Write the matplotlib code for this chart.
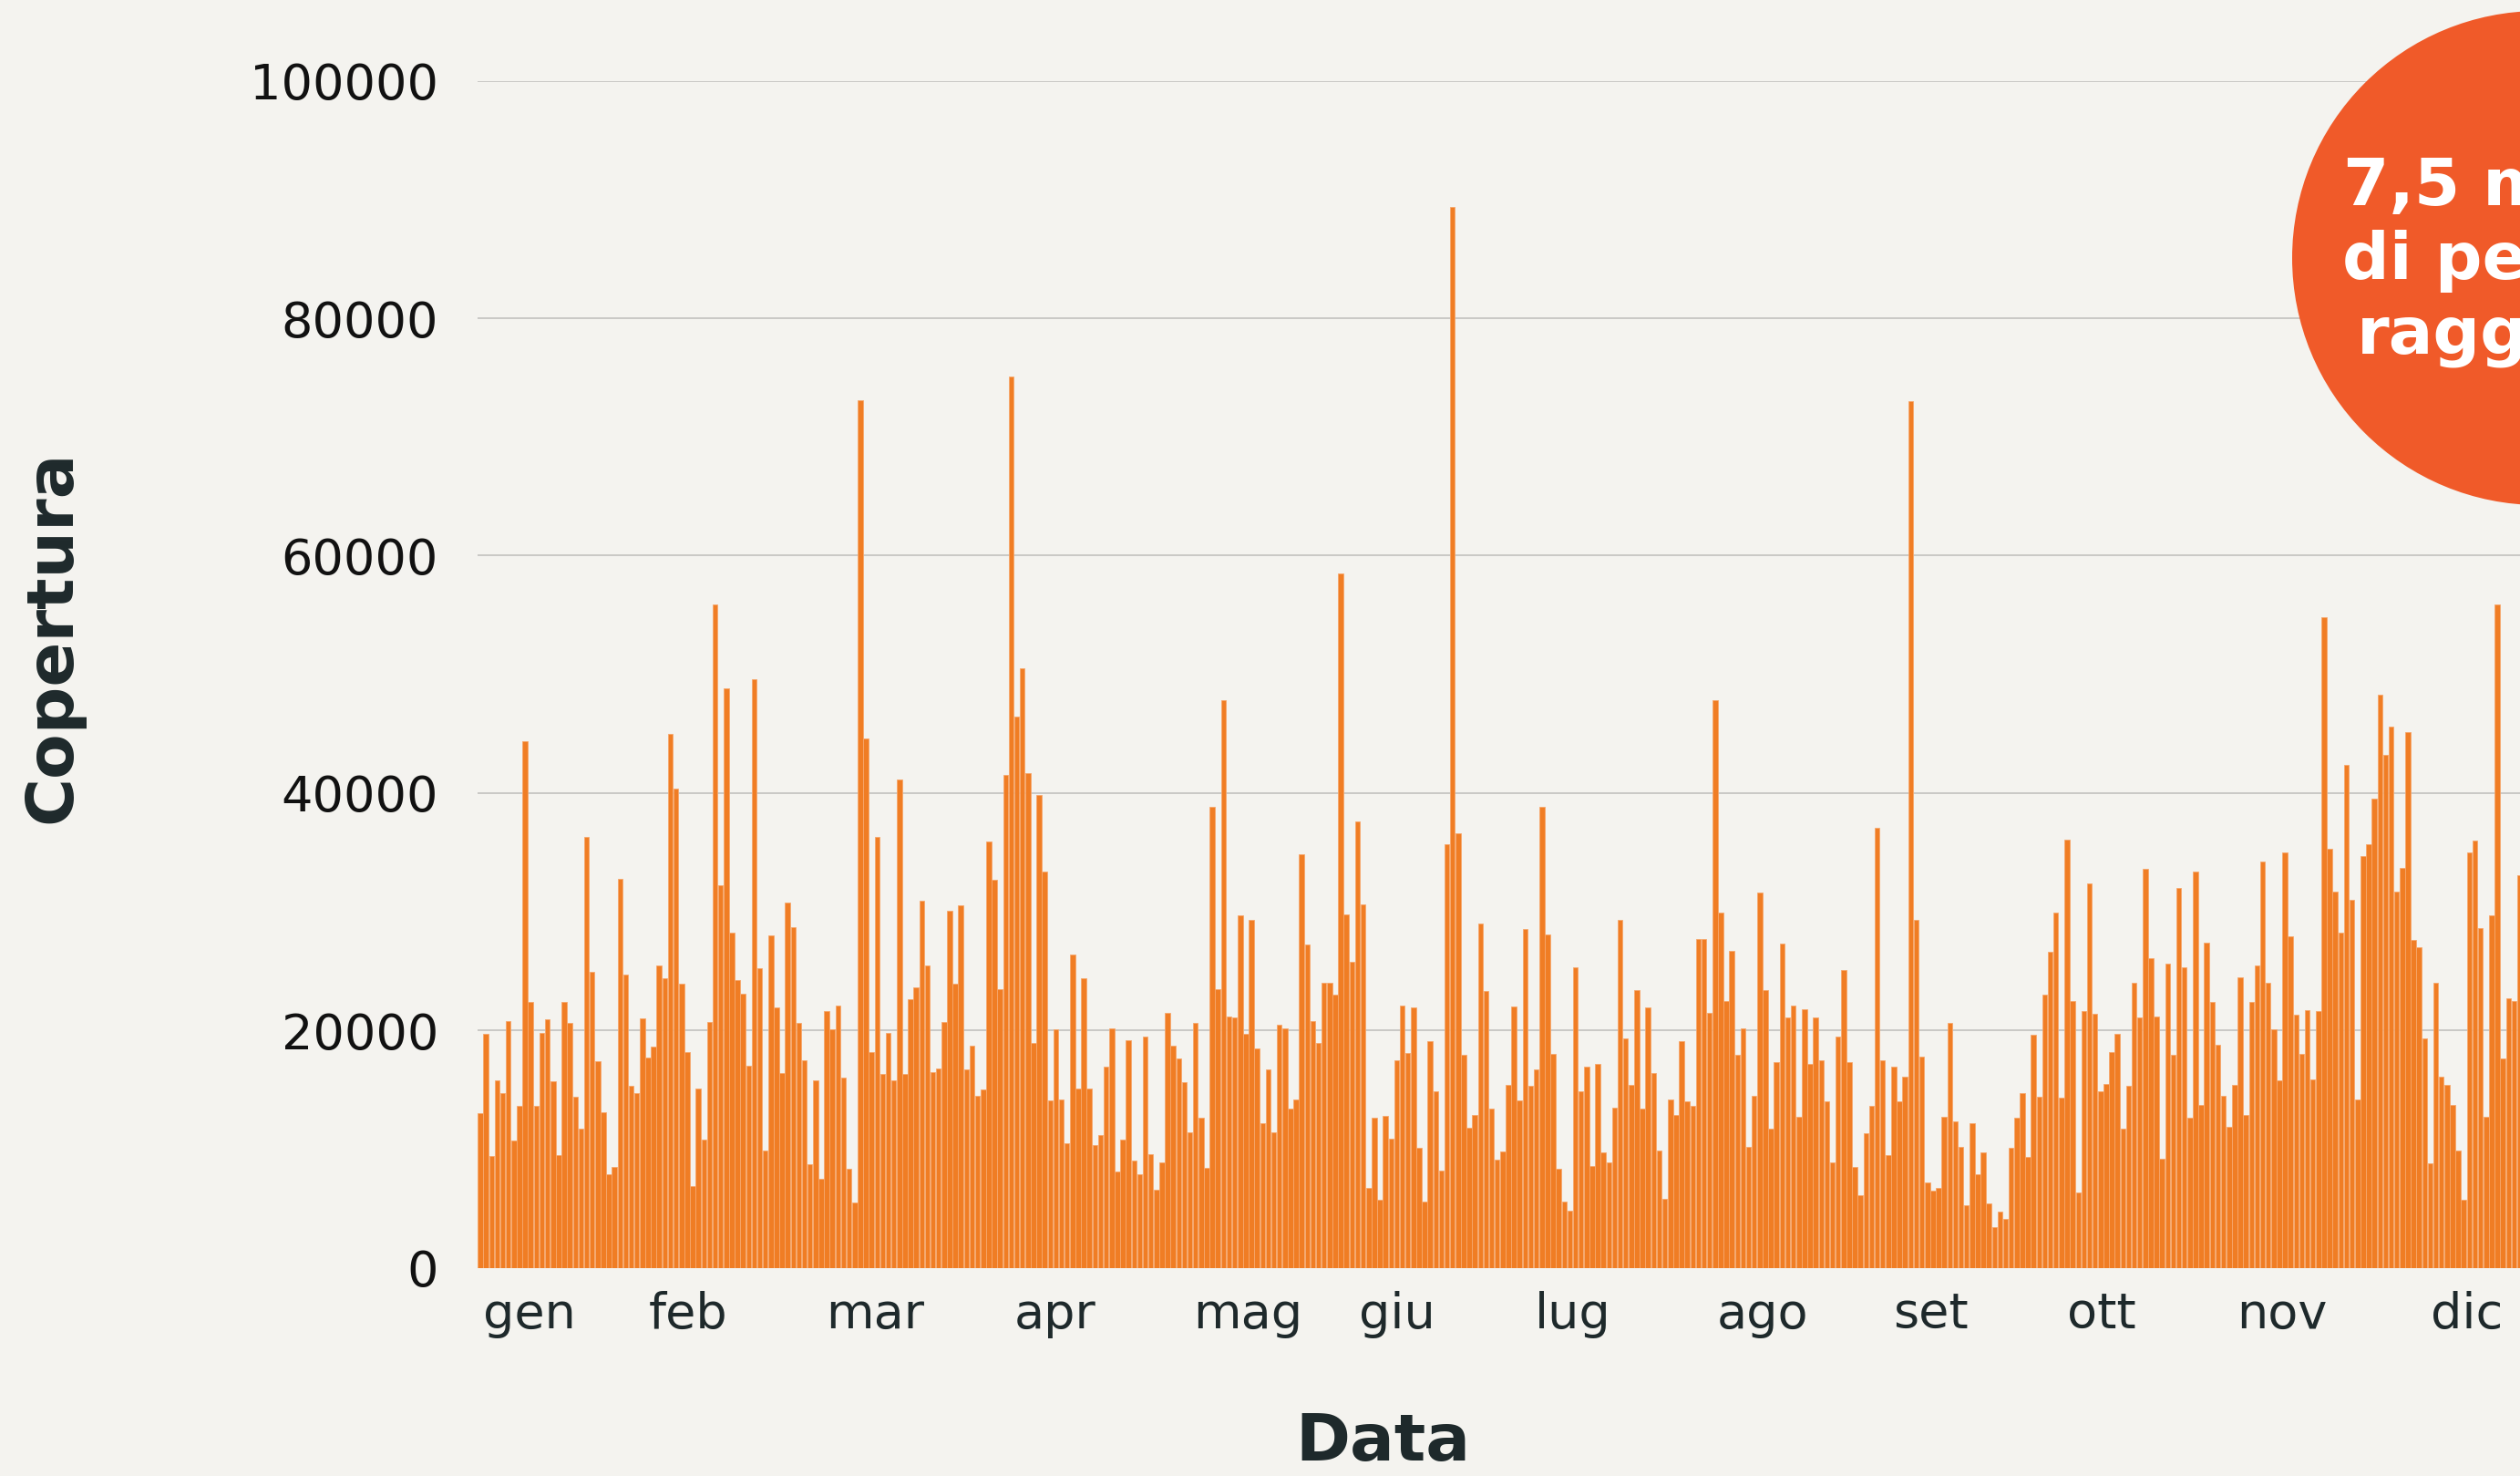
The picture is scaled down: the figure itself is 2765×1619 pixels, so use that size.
import matplotlib
matplotlib.use("Agg")
import matplotlib.pyplot as plt
from matplotlib.patches import Ellipse
import numpy as np

# ---------------- data ----------------
coverage = [
    13000, 19700, 9400, 15800, 14700, 20800, 10700, 13600, 44400, 22400,
    13600, 19800, 20900, 15700, 9500, 22400, 20600, 14400, 11700, 36300,
    24900, 17400, 13100, 7900, 8500, 32800, 24700, 15300, 14700, 21000,
    17700, 18600, 25500, 24400, 45000, 40400, 23900, 18200, 6900, 15100,
    10800, 20700, 55900, 32200, 48800,
    28200, 24200, 23100, 17000, 49600, 25200, 9900, 28000, 21900, 16400,
    30800, 28700, 20600, 17500, 8700, 15800, 7500, 21600, 20100, 22100,
    16000, 8300, 5500, 73100, 44600, 18200, 36300, 16300, 19800, 15800,
    41100, 16300, 22600, 23600, 30900, 25500, 16500, 16800, 20700, 30100,
    23900, 30500, 16700, 18700, 14500, 15000,
    35900, 32700, 23500, 41500, 75100, 46400, 50500, 41700, 18900, 39800,
    33400, 14100, 20100, 14200, 10500, 26400, 15100, 24400, 15100, 10300,
    11200, 16900, 20200, 8100, 10800, 19200, 9000, 7900, 19500, 9600,
    6600, 8900, 21500, 18700, 17600, 15600, 11400, 20600, 12600, 8400,
    38800, 23500, 47800, 21200, 21100, 29700,
    19700, 29300, 18500, 12200, 16700, 11400, 20500, 20200, 13400, 14200,
    34800, 27200, 20800, 18900, 24000, 24000, 23000, 58500, 29800, 25800,
    37600, 30600, 6700, 12600, 5700, 12800, 10900, 17500, 22100, 18100,
    21900, 10100, 5600, 19100, 14900, 8200, 35700, 89400, 36600, 17900,
    11800, 12900, 29000, 23300, 13400,
    9100, 9800, 15400, 22000, 14100, 28500, 15300, 16700, 38800, 28100,
    18000, 8300, 5600, 4800, 25300, 14900, 16900, 8600, 17200, 9700,
    8900, 13500, 29300, 19300, 15400, 23400, 13400, 21900, 16400, 9900,
    5800, 14200, 12900, 19100, 14000, 13600, 27700, 27700, 21500, 47800,
    29900, 22500, 26700, 17900, 20200, 10200,
    14500, 31600, 23400, 11700, 17300, 27300, 21100, 22100, 12700, 21800,
    17200, 21100, 17500, 14000, 8900, 19500, 25100, 17300, 8500, 6100,
    11300, 13600, 37100, 17500, 9500, 16900, 14000, 16100, 73000, 29300,
    17800, 7200, 6500, 6700, 12700, 20600, 12300, 10200, 5300, 12200,
    7900, 9700, 5400, 3400, 4700, 4100,
    10100, 12600, 14700, 9300, 19600, 14400, 23000, 26600, 29900, 14300,
    36100, 22500, 6300, 21600, 32400, 21400, 14900, 15500, 18200, 19700,
    11700, 15300, 24000, 21100, 33600, 26100, 21200, 9200, 25600, 17900,
    32000, 25300, 12600, 33400, 13700, 27400, 22400, 18800, 14500, 11900,
    15400, 24500, 12900, 22400, 25500,
    34200, 24000, 20100, 15800, 35000, 27900, 21300, 18000, 21700, 15900,
    21600, 54800, 35300, 31700, 28200, 42400, 31000, 14200, 34700, 35700,
    39500, 48300, 43200, 45600, 31700, 33700, 45100, 27600, 27000, 19300,
    8800, 24000, 16100, 15400, 13700, 9900, 5700, 35000, 36000, 28600,
    12700, 29700, 55900, 17600, 22700, 22500, 33100,
]
month_labels = ["gen", "feb", "mar", "apr", "mag", "giu",
                "lug", "ago", "set", "ott", "nov", "dic"]
y_ticks = [0, 20000, 40000, 60000, 80000, 100000]
badge_text = "7,5 milioni\ndi persone\nraggiunte"
x_title = "Data"
y_title = "Copertura"

# ---------------- layout / style ----------------
W, H = 2765, 1619
BG = "#F4F3EF"
BAR = "#F07D24"
BAR_EDGE = "#F6A76C"
BADGE = "#F05A29"
DARK = "#1E292B"
GRID = "#BEBDBA"
# label positions along the bar index axis, as seen in the reference
MONTH_TICK_POS = [8.8, 37.2, 70.7, 102.9, 137.3, 164.1,
                  195.5, 229.6, 259.6, 290.1, 322.5, 355.6]

plt.rcParams["font.family"] = ["DejaVu Sans"]

fig = plt.figure(figsize=(W / 100, H / 100), dpi=100, facecolor=BG)
left, right = 524, 2767.6
bottom, top = 1390.5, 88.7
ax = fig.add_axes([left / W, (H - bottom) / H, (right - left) / W, (bottom - top) / H])
ax.set_facecolor(BG)

x = np.arange(len(coverage))
ax.bar(x, coverage, width=0.9, color=BAR, edgecolor=BAR_EDGE, linewidth=0.6, zorder=2)

ax.set_xlim(-0.5, len(coverage) - 0.5)
ax.set_ylim(0, 100000)
ax.set_yticks(y_ticks)
ax.set_yticklabels([str(v) for v in y_ticks])
ax.set_xticks(MONTH_TICK_POS)
ax.set_xticklabels(month_labels)
ax.yaxis.grid(True, color=GRID, linewidth=1.1, zorder=0)
ax.xaxis.grid(False)
ax.set_axisbelow(True)
for s in ax.spines.values():
    s.set_visible(False)
ax.tick_params(axis="y", length=0, pad=31, labelsize=39, labelcolor="#111111")
ax.tick_params(axis="x", length=0, pad=18, labelsize=39, labelcolor=DARK)

# axis titles
fig.text(1517 / W, (H - 1602) / H, x_title, ha="center", va="baseline",
         fontsize=52, fontweight="bold", color=DARK)
fig.text(58 / W, (H - 698) / H, y_title, ha="center", va="center", rotation=90,
         fontsize=52, fontweight="bold", color=DARK)

# badge circle (partly outside the canvas, as in the reference)
cx, cy, r = 2786, 283, 271
circ = Ellipse((cx / W, (H - cy) / H), width=2 * r / W, height=2 * r / H,
               transform=fig.transFigure, facecolor=BADGE, edgecolor="none",
               clip_on=False, zorder=5)
fig.add_artist(circ)
fig.text(cx / W, (H - cy - 4) / H, badge_text, ha="center", va="center",
         multialignment="center", fontsize=52, fontweight="bold",
         color="white", linespacing=1.22, zorder=6)

fig.savefig("out.png", dpi=100, facecolor=BG)
